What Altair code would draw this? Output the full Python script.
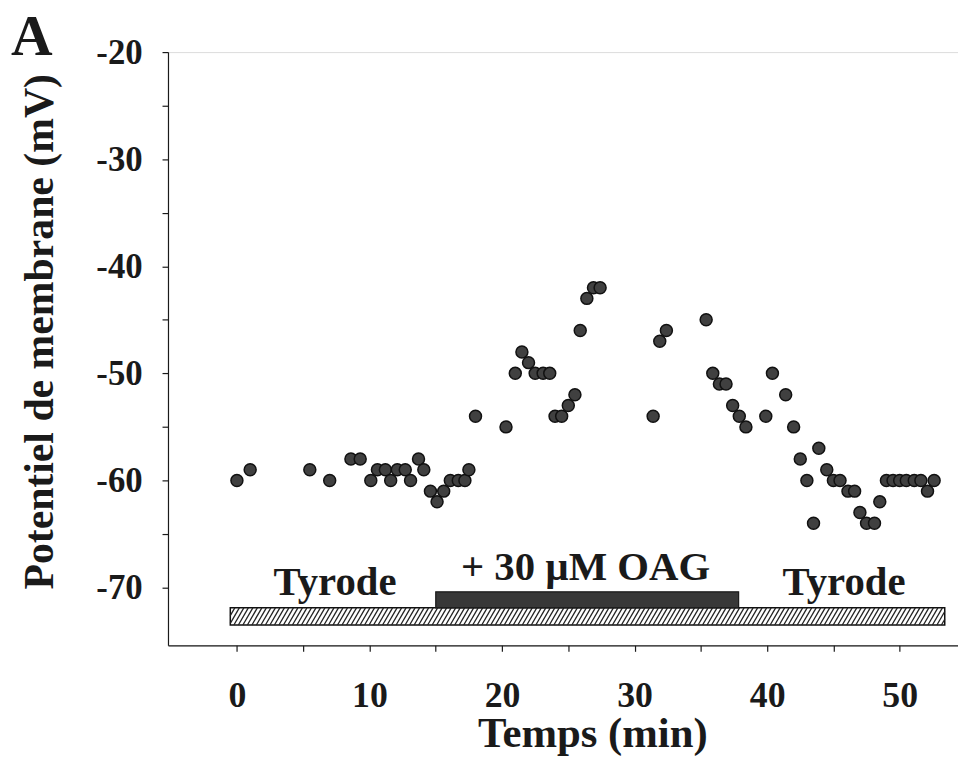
import altair as alt
import pandas as pd
import numpy as np

# ---- data ----
time_min = [0, 1, 5.5, 7, 8.6, 9.3, 10.1, 10.6, 11.2, 11.6, 12.1, 12.7, 13.1, 13.7,
            14.1, 14.6, 15.1, 15.6, 16.1, 16.7, 17.2, 17.5, 18.0, 20.3, 21.0, 21.5,
            22.0, 22.5, 23.1, 23.6, 24.0, 24.5, 25.0, 25.5, 25.9, 26.4, 26.9, 27.4,
            31.4, 31.9, 32.4, 35.4, 35.9, 36.4, 36.9, 37.4, 37.9, 38.4, 39.9, 40.4,
            41.4, 42.0, 42.5, 43.0, 43.5, 43.9, 44.5, 45.0, 45.5, 46.1, 46.6, 47.0,
            47.5, 48.1, 48.5, 49.0, 49.5, 50.0, 50.5, 51.1, 51.6, 52.1, 52.6]
potential_mv = [-60, -59, -59, -60, -58, -58, -60, -59, -59, -60, -59, -59, -60, -58,
                -59, -61, -62, -61, -60, -60, -60, -59, -54, -55, -50, -48,
                -49, -50, -50, -50, -54, -54, -53, -52, -46, -43, -42, -42,
                -54, -47, -46, -45, -50, -51, -51, -53, -54, -55, -54, -50,
                -52, -55, -58, -60, -64, -57, -59, -60, -60, -61, -61, -63,
                -64, -64, -62, -60, -60, -60, -60, -60, -60, -61, -60]

# perfusion periods (min) and their band levels on the mV scale
tyrode_period = [-0.5, 53.4]
tyrode_band = [-73.5, -71.9]
oag_period = [15.0, 37.85]
oag_band = [-71.9, -70.4]

labels_text = ["Tyrode", "+ 30 \u00b5M OAG", "Tyrode"]
labels_x = [7.4, 26.3, 45.8]
labels_y = [-70.7, -69.3, -70.7]

x_ticks = [0, 5, 10, 15, 20, 25, 30, 35, 40, 45, 50]
y_ticks = [-70, -65, -60, -55, -50, -45, -40, -35, -30, -25, -20]

FONT = "Liberation Serif"
INK = "#1a1a1a"

pts = pd.DataFrame({"t": time_min, "v": potential_mv})

xs = alt.Scale(domain=[-5.2, 54.4], nice=False, zero=False)
ys = alt.Scale(domain=[-75.4, -20], nice=False, zero=False)

x_axis = alt.Axis(values=x_ticks, title="Temps (min)", grid=False,
                  labelExpr="datum.value % 10 == 0 ? datum.label : ''",
                  labelFont=FONT, labelFontSize=36, labelFontWeight="bold", labelColor=INK,
                  labelBaseline="alphabetic", labelPadding=56, tickSize=6, tickColor=INK,
                  domainColor=INK, domainWidth=1.2, tickWidth=1.2,
                  titleFont=FONT, titleFontSize=43, titleFontWeight="bold", titleColor=INK,
                  titleX=427, titleY=102, titleAlign="center", titleBaseline="alphabetic")
y_axis = alt.Axis(values=y_ticks, title="Potentiel de membrane (mV)", grid=False,
                  labelExpr="datum.value % 10 == 0 ? '-' + abs(datum.value) : ''",
                  labelFont=FONT, labelFontSize=35, labelFontWeight="bold", labelColor=INK,
                  labelBaseline="middle", labelPadding=20, tickSize=6, tickColor=INK,
                  domainColor=INK, domainWidth=1.2, tickWidth=1.2,
                  titleFont=FONT, titleFontSize=42, titleFontWeight="bold", titleColor=INK,
                  titleX=-129, titleY=281, titleAngle=-90, titleAlign="center",
                  titleBaseline="middle")

# bands
bands = pd.DataFrame({
    "t0": [tyrode_period[0], oag_period[0]],
    "t1": [tyrode_period[1], oag_period[1]],
    "y0": [tyrode_band[0], oag_band[0]],
    "y1": [tyrode_band[1], oag_band[1]],
    "kind": ["tyrode", "oag"],
})

tyrode_rect = alt.Chart(bands[bands.kind == "tyrode"]).mark_rect(
    fill="white", stroke="#111", strokeWidth=1.5
).encode(x=alt.X("t0:Q", scale=xs, axis=x_axis), x2="t1:Q",
         y=alt.Y("y0:Q", scale=ys, axis=y_axis), y2="y1:Q")

# hatching for the Tyrode band, derived from its extent
step = 0.34
dx = 0.75
t0, t1 = tyrode_period
yb, yt = tyrode_band
starts = np.arange(t0 - dx, t1, step)
rows = []
for s in starts:
    xa, ya, xb, yb2 = s, yb, s + dx, yt
    if xa < t0:
        frac = (t0 - xa) / dx
        xa, ya = t0, yb + frac * (yt - yb)
    if xb > t1:
        frac = (xb - t1) / dx
        xb, yb2 = t1, yt - frac * (yt - yb)
    if xb > xa:
        rows.append({"xa": xa, "ya": ya, "xb": xb, "yb": yb2})
hatch = pd.DataFrame(rows)
hatch_rules = alt.Chart(hatch).mark_rule(color="#222", strokeWidth=1.3).encode(
    x=alt.X("xa:Q", scale=xs), x2="xb:Q", y=alt.Y("ya:Q", scale=ys), y2="yb:Q")

oag_rect = alt.Chart(bands[bands.kind == "oag"]).mark_rect(
    fill="#383838", stroke="#1a1a1a", strokeWidth=1.2
).encode(x=alt.X("t0:Q", scale=xs), x2="t1:Q",
         y=alt.Y("y0:Q", scale=ys), y2="y1:Q")

points = alt.Chart(pts).mark_point(
    shape="circle", filled=True, size=145, fill="#404040", stroke="#111",
    strokeWidth=1.5, opacity=1
).encode(x=alt.X("t:Q", scale=xs), y=alt.Y("v:Q", scale=ys))

lab = pd.DataFrame({"text": labels_text, "x": labels_x, "y": labels_y})
texts = alt.Chart(lab).mark_text(
    font=FONT, fontSize=41, fontWeight="bold", color=INK, align="center",
    baseline="alphabetic"
).encode(x=alt.X("x:Q", scale=xs), y=alt.Y("y:Q", scale=ys), text="text:N")

panel = alt.Chart(pd.DataFrame({"letter": ["A"]})).mark_text(
    font=FONT, fontSize=58, fontWeight="bold", color=INK, align="center",
    baseline="alphabetic"
).encode(x=alt.value(-137), y=alt.value(3), text="letter:N")

chart = alt.layer(tyrode_rect, hatch_rules, oag_rect, points, texts, panel).properties(
    width=795, height=597,
    autosize=alt.AutoSizeParams(type="none"),
    padding={"left": 161, "top": 42, "right": 0, "bottom": 110},
).configure_view(stroke=None).configure(background="white")

chart.save("out.html", embed_options={"renderer": "svg", "actions": False})
